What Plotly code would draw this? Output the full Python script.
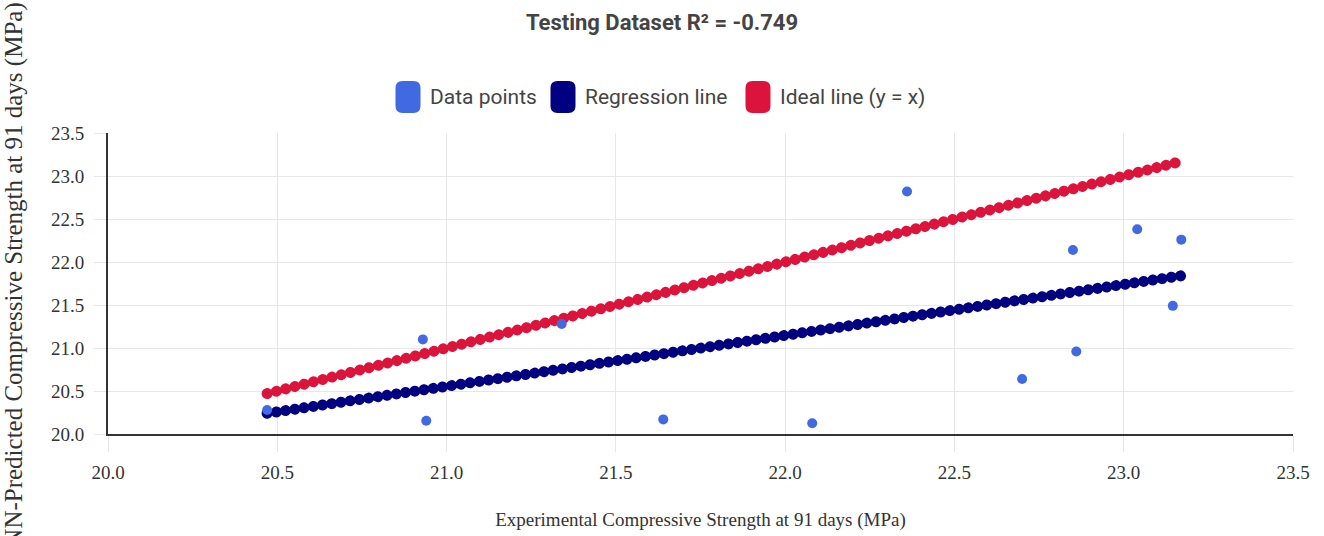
import plotly.graph_objects as go

# ---- data ----
exp_strength = [20.47, 20.93, 20.94, 21.34, 21.64, 22.08, 22.36, 22.70, 22.85, 22.86, 23.04, 23.145, 23.17]
pred_strength = [20.28, 21.10, 20.155, 21.28, 20.17, 20.125, 22.82, 20.64, 22.14, 20.96, 22.38, 21.49, 22.26]
reg_x = [20.47, 23.17]
reg_y = [20.24, 21.84]
ideal_x = [20.47, 23.17]
ideal_y = [20.47, 23.17]
tick_vals = [20.0, 20.5, 21.0, 21.5, 22.0, 22.5, 23.0, 23.5]
tick_text = ["20.0", "20.5", "21.0", "21.5", "22.0", "22.5", "23.0", "23.5"]
legend_names = ["Data points", "Regression line", "Ideal line (y = x)"]

C_POINTS = "#4169E1"
C_REG = "#000080"
C_IDEAL = "#DC143C"

W, H = 1324, 536
L, R, T, B = 108, 31, 133, 102

fig = go.Figure()
fig.add_trace(go.Scatter(x=ideal_x, y=ideal_y, mode="lines", name=legend_names[2],
                         line=dict(color=C_IDEAL, width=11, dash="0.01px,9.55px")))
fig.add_trace(go.Scatter(x=reg_x, y=reg_y, mode="lines", name=legend_names[1],
                         line=dict(color=C_REG, width=11, dash="0.01px,9.32px")))
fig.add_trace(go.Scatter(x=exp_strength, y=pred_strength, mode="markers", name=legend_names[0],
                         marker=dict(color=C_POINTS, size=10)))

pw, ph = W - L - R, H - T - B
def px_to_paper(x, y):
    return (x - L) / pw, (H - B - y) / ph

def rounded_rect(cx, cy, w, h, r):
    x0, x1 = cx - w / 2, cx + w / 2
    y0, y1 = cy - h / 2, cy + h / 2
    def P(x, y):
        a, b = px_to_paper(x, y)
        return f"{a:.5f},{b:.5f}"
    d = (f"M {P(x0 + r, y0)} L {P(x1 - r, y0)} Q {P(x1, y0)} {P(x1, y0 + r)} "
         f"L {P(x1, y1 - r)} Q {P(x1, y1)} {P(x1 - r, y1)} L {P(x0 + r, y1)} "
         f"Q {P(x0, y1)} {P(x0, y1 - r)} L {P(x0, y0 + r)} Q {P(x0, y0)} {P(x0 + r, y0)} Z")
    return d

legend_items = [(408, 428, C_POINTS), (563, 583, C_REG), (758, 778, C_IDEAL)]
shapes = []
annotations = []
for (cx, tx, col), name in zip(legend_items, legend_names):
    shapes.append(dict(type="path", xref="paper", yref="paper", path=rounded_rect(cx, 97, 25, 32, 7),
                       fillcolor=col, line=dict(width=0)))
    ax, ay = px_to_paper(tx, 97)
    annotations.append(dict(x=ax, y=ay, xref="paper", yref="paper", text=name, showarrow=False,
                            xanchor="left", yanchor="middle",
                            font=dict(family="Roboto, Liberation Sans", size=21, color="#444444")))

axis_common = dict(
    range=[20, 23.5], tickvals=tick_vals, ticktext=tick_text,
    showgrid=True, gridcolor="#e6e6eb", gridwidth=1,
    ticks="outside", tickcolor="#e6e6eb",
    showline=True, linecolor="#333333", linewidth=2,
    zeroline=False, automargin=False,
    tickfont=dict(family="Liberation Serif, Times New Roman, serif", size=19, color="#333333"),
)

fig.update_layout(
    width=W, height=H, autosize=False,
    margin=dict(l=L, r=R, t=T, b=B),
    paper_bgcolor="white", plot_bgcolor="white",
    showlegend=False,
    title=dict(text="<b>Testing Dataset R² = -0.749</b>", x=0.5, xanchor="center",
               y=1 - 22 / H, yanchor="middle", yref="container", automargin=False,
               font=dict(family="Roboto, Liberation Sans", size=22, color="#444444")),
    xaxis=dict(**axis_common, ticklen=16, ticklabelstandoff=4,
               title=dict(text="Experimental Compressive Strength at 91 days (MPa)", standoff=31,
                          font=dict(family="Liberation Serif, Times New Roman, serif", size=19, color="#333333"))),
    yaxis=dict(**axis_common, ticklen=12, ticklabelstandoff=6,
               title=dict(text="ANN-Predicted Compressive Strength at 91 days (MPa)", standoff=26,
                          font=dict(family="Liberation Serif, Times New Roman, serif", size=25, color="#333333"))),
    shapes=shapes, annotations=annotations,
)

post = """
document.documentElement.style.margin = '0';
document.documentElement.style.overflow = 'hidden';
document.body.style.margin = '0';
document.body.style.overflow = 'hidden';
var gd = document.getElementById('{plot_id}');
gd.querySelectorAll('.scatterlayer .js-line').forEach(function(p){ p.style.strokeLinecap = 'round'; });
"""
fig.write_html("out.html", post_script=post, config={"displayModeBar": False})
